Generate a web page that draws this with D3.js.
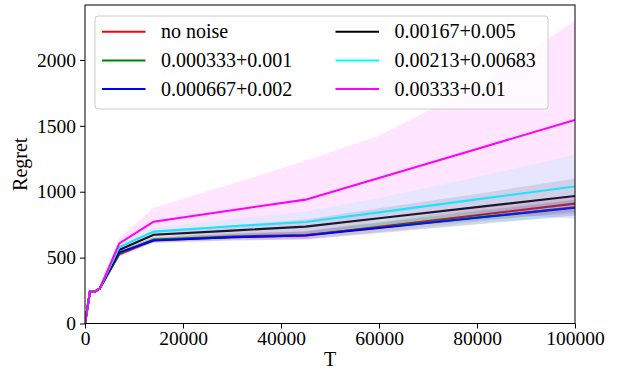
<!DOCTYPE html>
<html>
<head>
<meta charset="utf-8">
<script src="https://cdn.jsdelivr.net/npm/d3@7"></script>
<style>
body { margin: 0; background: #fff; }
text { font-family: "Liberation Serif", "Times New Roman", serif; }
</style>
</head>
<body>
<svg id="chart" width="618" height="377"></svg>
<script>
// T 轴上的采样点
var T = [0, 1000, 2000, 3000, 7000, 14000, 30000, 45000, 60000, 80000, 100000];

var labels = ["no noise", "0.000333+0.001", "0.000667+0.002", "0.00167+0.005", "0.00213+0.00683", "0.00333+0.01"];
var colors = ["#ff0000", "#008000", "#0000ff", "#000000", "#00ffff", "#ff00ff"];

// 平均 regret
var meanRed     = [0, 240, 242, 265, 525, 632, 655, 668, 734, 822, 910];
var meanGreen   = [0, 240, 242, 265, 532, 637, 660, 672, 729, 805, 882];
var meanBlue    = [0, 240, 242, 265, 540, 630, 655, 668, 725, 802, 878];
var meanBlack   = [0, 240, 242, 265, 560, 673, 705, 735, 799, 883, 968];
var meanCyan    = [0, 240, 242, 265, 580, 697, 738, 770, 843, 942, 1040];
var meanMagenta = [0, 240, 242, 265, 608, 773, 860, 940, 1105, 1325, 1545];

// 阴影带的半宽
var sdRed     = [0, 3, 3, 5, 20, 20, 25, 30, 40, 50, 60];
var sdGreen   = [0, 3, 3, 5, 20, 20, 25, 30, 40, 50, 60];
var sdBlue    = [0, 3, 3, 5, 20, 20, 25, 30, 40, 50, 60];
var sdBlack   = [0, 3, 3, 5, 20, 25, 40, 55, 75, 100, 132];
var sdCyan    = [0, 3, 3, 5, 25, 30, 55, 80, 110, 170, 240];
var sdMagenta = [0, 5, 5, 8, 40, 105, 200, 295, 320, 480, 750];

var xTicks = [0, 20000, 40000, 60000, 80000, 100000];
var yTicks = [0, 500, 1000, 1500, 2000];

var means = [meanRed, meanGreen, meanBlue, meanBlack, meanCyan, meanMagenta];
var sds = [sdRed, sdGreen, sdBlue, sdBlack, sdCyan, sdMagenta];

var svg = d3.select("#chart");
var margin = {top: 5, right: 43, bottom: 53.5, left: 85};
var width = +svg.attr("width") - margin.left - margin.right;
var height = +svg.attr("height") - margin.top - margin.bottom;
var g = svg.append("g").attr("transform", "translate(" + margin.left + "," + margin.top + ")");

var x = d3.scaleLinear().domain([0, 100000]).range([0, width]);
var y = d3.scaleLinear().domain([0, 2417]).range([height, 0]);

var area = d3.area()
    .x(function(d) { return x(d.t); })
    .y0(function(d) { return y(d.m - d.s); })
    .y1(function(d) { return y(d.m + d.s); });
var line = d3.line()
    .x(function(d) { return x(d.t); })
    .y(function(d) { return y(d.m); });

g.append("clipPath").attr("id", "clip")
    .append("rect").attr("width", width).attr("height", height);
var plot = g.append("g").attr("clip-path", "url(#clip)");

means.forEach(function(m, k) {
    var rows = T.map(function(t, i) { return {t: t, m: m[i], s: sds[k][i]}; });
    plot.append("path")
        .attr("d", area(rows))
        .attr("fill", colors[k])
        .attr("fill-opacity", 0.1);
    plot.append("path")
        .attr("d", line(rows))
        .attr("fill", "none")
        .attr("stroke", colors[k])
        .attr("stroke-width", 2.1);
});

var fs = "19.5px";
var xAxis = g.append("g")
    .attr("transform", "translate(0," + height + ")")
    .call(d3.axisBottom(x).tickValues(xTicks).tickFormat(d3.format("d")).tickSize(5).tickPadding(3));
var yAxis = g.append("g")
    .call(d3.axisLeft(y).tickValues(yTicks).tickFormat(d3.format("d")).tickSize(5).tickPadding(4));
[xAxis, yAxis].forEach(function(a) {
    a.select(".domain").remove();
    a.selectAll("line").attr("stroke", "#000").attr("stroke-width", 1);
    a.selectAll("text").attr("fill", "#000").style("font-size", fs)
        .style("font-family", "'Liberation Serif', serif");
});

// 外框
g.append("rect")
    .attr("width", width).attr("height", height)
    .attr("fill", "none").attr("stroke", "#000").attr("stroke-width", 1);

g.append("text")
    .attr("x", width / 2).attr("y", height + 42)
    .attr("text-anchor", "middle").style("font-size", "20px")
    .text("T");
g.append("text")
    .attr("transform", "translate(" + (-65) + "," + (height / 2) + ") rotate(-90)")
    .attr("text-anchor", "middle").attr("dy", "0.35em").style("font-size", "20px")
    .text("Regret");

// 图例
var lg = g.append("g").attr("transform", "translate(10,11)");
lg.append("rect")
    .attr("width", 453).attr("height", 93).attr("rx", 3)
    .attr("fill", "#fff").attr("fill-opacity", 0.8)
    .attr("stroke", "#cccccc").attr("stroke-width", 1);
labels.forEach(function(lab, k) {
    var col = Math.floor(k / 3), row = k % 3;
    var item = lg.append("g")
        .attr("transform", "translate(" + (7 + col * 233.5) + "," + (15.7 + row * 28.7) + ")");
    item.append("line")
        .attr("x1", 0).attr("x2", 43.5)
        .attr("stroke", colors[k]).attr("stroke-width", 2);
    item.append("text")
        .attr("x", 59).attr("dy", "0.33em")
        .style("font-size", "20px")
        .text(lab);
});
</script>
</body>
</html>
